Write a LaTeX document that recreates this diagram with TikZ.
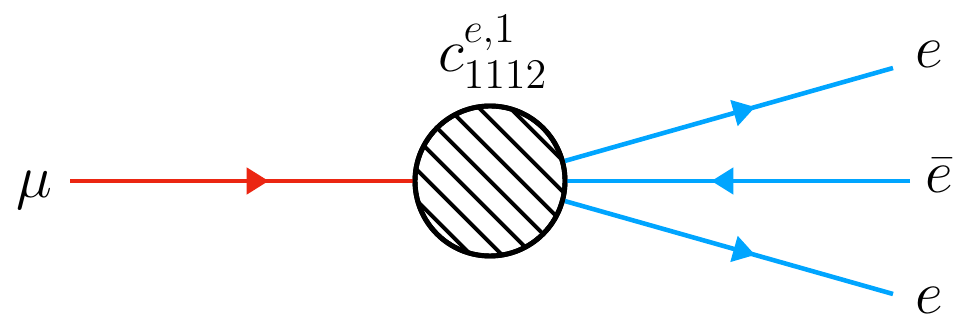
\documentclass[tikz,border=0pt]{standalone}
\usepackage{amssymb}
\usepackage{amsmath}
\usepackage{tikz}
\usetikzlibrary{arrows.meta,decorations.markings}
\definecolor{muonred}{RGB}{235,38,18}
\definecolor{elecblue}{RGB}{0,165,255}

\begin{document}
\begin{tikzpicture}[
        fermion/.style={line width=1.3pt, postaction={decorate},
            decoration={markings, mark=at position 0.58 with {\arrow{Triangle[length=0.22cm,width=0.26cm]}}}},
        blob/.style={circle, draw, line width=1.4pt, fill=white, minimum size=1.5cm, inner sep=0pt},
        lbl/.style={anchor=base, font=\fontsize{17.8}{20}\selectfont},
        clbl/.style={anchor=base, font=\fontsize{18}{20}\selectfont}
    ]
        \useasboundingbox (0,0) rectangle (9.54,3.21);
        \coordinate (muin) at (0.70,1.40);
        \coordinate (eout1) at (8.93,2.53);
        \coordinate (ebarin) at (9.10,1.40);
        \coordinate (eout2) at (8.93,0.27);
        \node[blob] (v) at (4.90,1.40) {};
        \draw[fermion, muonred] (muin) -- (v.west);
        \draw[fermion, elecblue] (v.15.7) -- (eout1);
        \draw[fermion, elecblue] (ebarin) -- (v.east);
        \draw[fermion, elecblue] (v.-15.7) -- (eout2);
        % hatching inside the blob
        \begin{scope}
            \clip (v.center) circle (0.74);
            \foreach \d in {-4,...,4}
                \draw[line width=1.1pt] ([shift={(\d*0.155,\d*0.155)}]v.center) ++(-1,1) -- ++(2,-2);
        \end{scope}
        \draw[line width=1.4pt] (v.center) circle (0.75);
        \node[clbl] (c) at (4.93,2.49) {$c^{e,1}_{1112}$};
        \node[lbl] (mu) at (0.345,1.23) {$\mu$};
        \node[lbl] (e1) at (9.29,2.53) {$e$};
        \node[lbl] (ebar) at (9.39,1.28) {$\bar{e}$};
        \node[lbl] (e2) at (9.29,0.07) {$e$};
\end{tikzpicture}
\end{document}
